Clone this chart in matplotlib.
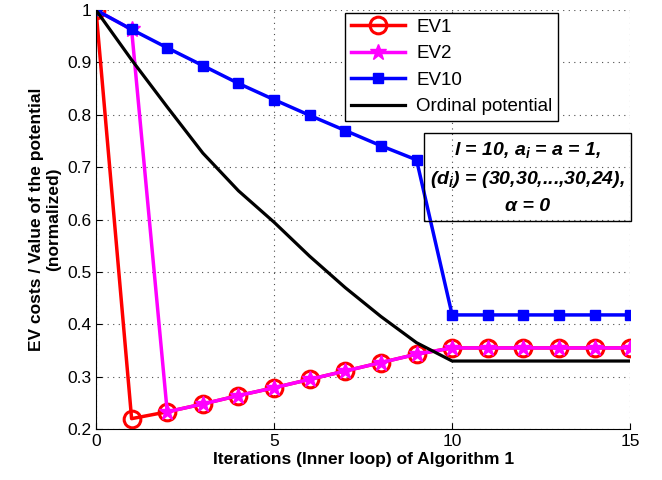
import numpy as np
import matplotlib.pyplot as plt

plt.rcParams['font.family'] = ['Liberation Sans', 'DejaVu Sans']
plt.rcParams['mathtext.fontset'] = 'custom'
plt.rcParams['mathtext.it'] = 'Liberation Sans:italic:bold'
plt.rcParams['mathtext.rm'] = 'Liberation Sans:italic:bold'

# values
iters = np.arange(16)
ev1 = [1.0, 0.22, 0.233, 0.248, 0.264, 0.279, 0.295, 0.311, 0.327, 0.343,
       0.355, 0.355, 0.355, 0.355, 0.355, 0.355]
ev2 = [1.0, 0.963, 0.233, 0.248, 0.264, 0.279, 0.295, 0.311, 0.327, 0.343,
       0.355, 0.355, 0.355, 0.355, 0.355, 0.355]
ev10 = [1.0, 0.963, 0.928, 0.894, 0.860, 0.829, 0.799, 0.770, 0.741, 0.714,
        0.418, 0.418, 0.418, 0.418, 0.418, 0.418]
potential = [1.0, 0.905, 0.815, 0.727, 0.655, 0.595, 0.53, 0.47, 0.415, 0.365,
             0.33, 0.33, 0.33, 0.33, 0.33, 0.33]

fig = plt.figure(figsize=(6.62, 4.8), dpi=100)
ax = fig.add_axes([0.145, 0.106, 0.807, 0.873])

ax.plot(iters, ev1, color='red', lw=2.5, marker='o', ms=12, mfc='none',
        mew=2.2, label='EV1')
ax.plot(iters, ev2, color='magenta', lw=2.5, marker='*', ms=12,
        mfc='magenta', label='EV2')
ax.plot(iters, ev10, color='blue', lw=2.5, marker='s', ms=7.5,
        mfc='blue', label='EV10')
ax.plot(iters, potential, color='black', lw=2.3, label='Ordinal potential')

ax.set_xlim(0, 15)
ax.set_ylim(0.2, 1.0)
ax.set_xticks([0, 5, 10, 15])
ax.set_yticks(np.arange(0.2, 1.01, 0.1))
ax.set_yticklabels(['0.2', '0.3', '0.4', '0.5', '0.6', '0.7', '0.8', '0.9', '1'])
ax.tick_params(direction='in', labelsize=12.5, length=4)
ax.grid(True, linestyle=(0, (1, 4)), color='black', lw=0.8, alpha=0.7)
ax.spines['top'].set_visible(False)
ax.spines['right'].set_visible(False)

ax.set_xlabel('Iterations (Inner loop) of Algorithm 1', fontsize=12.5,
              fontweight='bold', labelpad=2)
ax.set_ylabel('EV costs / Value of the potential\n(normalized)', fontsize=12.5,
              fontweight='bold', labelpad=4)

leg = ax.legend(loc='upper left', bbox_to_anchor=(0.466, 0.993), fontsize=13.5,
                fancybox=False, framealpha=1, edgecolor='black',
                borderaxespad=0, borderpad=0.3, labelspacing=0.5,
                handlelength=2.9, handletextpad=0.6)
leg.get_frame().set_linewidth(1.0)

ax.text(0.808, 0.6, 'l = 10, a$_i$ = a = 1,\n(d$_i$) = (30,30,...,30,24),\nα = 0',
        transform=ax.transAxes, ha='center', va='center', fontsize=14,
        fontweight='bold', style='italic', linespacing=1.6,
        bbox=dict(boxstyle='square,pad=0.3', facecolor='none',
                  edgecolor='black', lw=1.0))

fig.savefig('out.png', dpi=100)
